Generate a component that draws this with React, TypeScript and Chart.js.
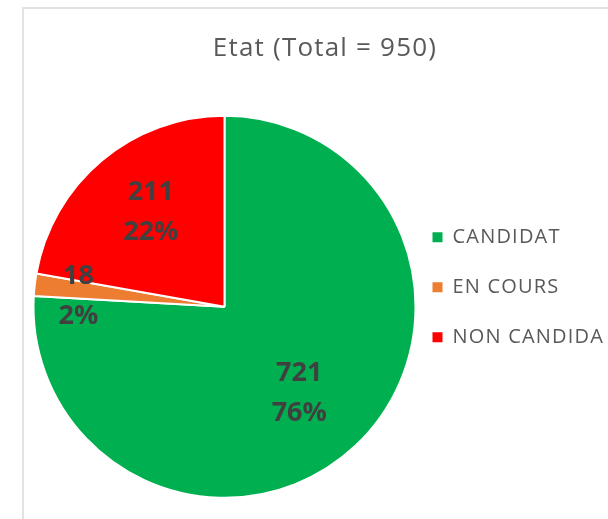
import React, { useEffect, useRef } from "react";
import { Chart, registerables } from "chart.js";

Chart.register(...registerables);

const TITLE = "Etat (Total = 950)";
const CATEGORIES = ["CANDIDAT", "EN COURS", "NON CANDIDAT"];
const VALUES = [721, 18, 211];
const COLORS = ["#00B050", "#ED7D31", "#FF0000"];

const FONT = "'Open Sans', sans-serif";
// radial placement of the value labels (fraction of radius) and small nudges
const LABEL_RADIUS = [0.6, 0.77, 0.625];
const LABEL_NUDGE = [
  [-4, 3],
  [0, 6],
  [3, -3],
];

export default function App() {
  const ref = useRef<HTMLCanvasElement>(null);

  useEffect(() => {
    if (!ref.current) return;

    const spacingPlugin = {
      id: "letterSpacing",
      beforeUpdate(chart: any) {
        chart.ctx.letterSpacing = "1.2px";
      },
      beforeDraw(chart: any) {
        chart.ctx.letterSpacing = "1.2px";
      },
    };

    const labelsPlugin = {
      id: "sliceLabels",
      afterDatasetsDraw(chart: any) {
        const ctx = chart.ctx as CanvasRenderingContext2D;
        const meta = chart.getDatasetMeta(0);
        const data = chart.data.datasets[0].data as number[];
        const total = data.reduce((a, b) => a + b, 0);
        ctx.save();
        (ctx as any).letterSpacing = "0px";
        ctx.font = `bold 27px ${FONT}`;
        ctx.fillStyle = "#404040";
        ctx.textAlign = "center";
        ctx.textBaseline = "middle";
        meta.data.forEach((arc: any, i: number) => {
          const { x, y, startAngle, endAngle, outerRadius } = arc.getProps(
            ["x", "y", "startAngle", "endAngle", "outerRadius"],
            true
          );
          const mid = (startAngle + endAngle) / 2;
          const r = outerRadius * LABEL_RADIUS[i];
          const cx = x + Math.cos(mid) * r + LABEL_NUDGE[i][0];
          const cy = y + Math.sin(mid) * r + LABEL_NUDGE[i][1];
          ctx.fillText(String(data[i]), cx, cy - 20);
          ctx.fillText(Math.round((data[i] / total) * 100) + "%", cx, cy + 20);
        });
        ctx.restore();
      },
    };

    const chart = new Chart(ref.current, {
      type: "pie",
      data: {
        labels: CATEGORIES,
        datasets: [
          {
            data: VALUES,
            backgroundColor: COLORS,
            borderColor: "#ffffff",
            borderWidth: 2,
            radius: 191,
            hoverOffset: 0,
          } as any,
        ],
      },
      options: {
        responsive: false,
        animation: false,
        events: [],
        layout: {
          padding: { top: 25, left: 46.5, right: 56.5, bottom: 10.6 },
        },
        plugins: {
          tooltip: { enabled: false },
          title: {
            display: true,
            text: TITLE,
            color: "#595959",
            font: { family: FONT, size: 26, weight: "normal" },
            padding: { top: 8, bottom: 0 },
          },
          legend: {
            display: true,
            position: "right",
            align: "center",
            maxWidth: 201,
            labels: {
              boxWidth: 10,
              boxHeight: 10,
              padding: 30,
              color: "#595959",
              font: { family: FONT, size: 20 },
              generateLabels: (c: any) =>
                (Chart as any).overrides.pie.plugins.legend.labels
                  .generateLabels(c)
                  .map((l: any) => ({ ...l, lineWidth: 0 })),
            },
          },
        },
      } as any,
      plugins: [spacingPlugin, labelsPlugin],
    });

    return () => chart.destroy();
  }, []);

  return (
    <div
      style={{
        position: "fixed",
        left: 0,
        top: 0,
        width: 608,
        height: 519,
        overflow: "hidden",
        background: "#ffffff",
      }}
    >
      <div
        style={{
          position: "absolute",
          left: 22,
          top: 7,
          width: 700,
          height: 600,
          borderLeft: "2px solid #e2e2e2",
          borderTop: "2px solid #e2e2e2",
        }}
      />
      <canvas
        ref={ref}
        width={660}
        height={560}
        style={{ position: "absolute", left: 0, top: 0, width: 660, height: 560 }}
      />
    </div>
  );
}
